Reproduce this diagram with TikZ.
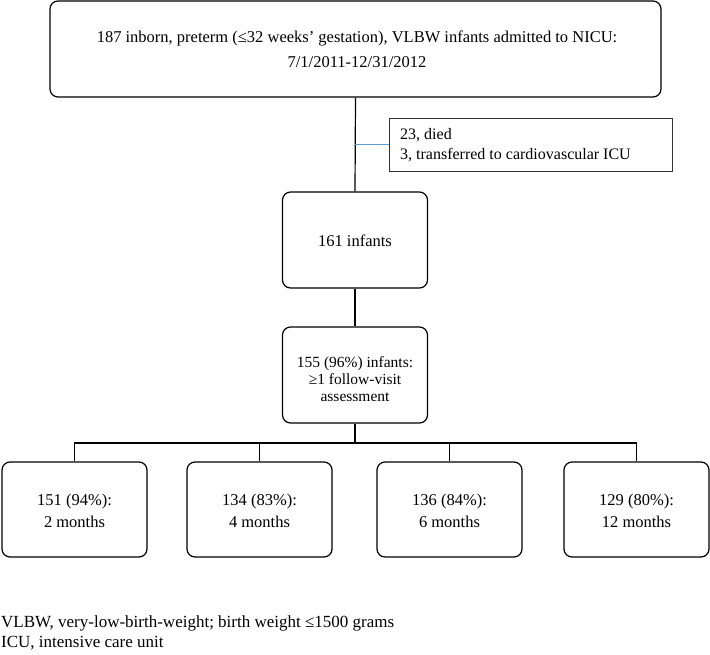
\documentclass[tikz,border=0pt]{standalone}
\usepackage{fontspec}
\setmainfont{Liberation Serif}
\definecolor{linkblue}{HTML}{5B9BD5}
\begin{document}
\begin{tikzpicture}[x=1pt,y=-1pt,
  box/.style={draw, rounded corners=8pt, line width=1.2pt, inner sep=0pt, minimum width=#1},
  sidebox/.style={draw=black!80, line width=1pt, inner sep=0pt, minimum width=283pt, minimum height=53pt},
  txt/.style={inner sep=0pt, align=center, font=\fontsize{16.5}{22}\selectfont},
  ltxt/.style={inner sep=0pt, align=left, font=\fontsize{16}{20}\selectfont},
  conn/.style={line width=1.2pt},
]
\useasboundingbox (0,0) rectangle (710,654);
% boxes
\node[box=611pt, minimum height=96pt] (top) at (355.5,49) {};
\node[sidebox] (side) at (530.5,144.5) {};
\node[box=145pt, minimum height=96pt] (b161) at (355,240) {};
\node[box=145pt, minimum height=96pt] (b155) at (355,375) {};
\node[box=145pt, minimum height=95pt] (m1) at (74.5,509.5) {};
\node[box=145pt, minimum height=95pt] (m2) at (259.5,509.5) {};
\node[box=145pt, minimum height=95pt] (m3) at (449.5,509.5) {};
\node[box=145pt, minimum height=95pt] (m4) at (636.5,509.5) {};
% texts
\node[txt, font=\fontsize{16.5}{25}\selectfont] (ttop) at (357,49.5) {187 inborn, preterm (≤32 weeks’ gestation), VLBW infants admitted to NICU:\\7/1/2011-12/31/2012};
\node[ltxt, anchor=west] (tside) at (400,145) {23, died\\3, transferred to cardiovascular ICU};
\node[txt] (t161) at (355,241) {161 infants};
\node[txt, font=\fontsize{15.5}{17}\selectfont] (t155) at (355,379) {155 (96\%) infants:\\≥1 follow-visit\\assessment};
\node[txt] (tm1) at (74.5,511) {151 (94\%):\\2 months};
\node[txt] (tm2) at (259.5,511) {134 (83\%):\\4 months};
\node[txt] (tm3) at (449.5,511) {136 (84\%):\\6 months};
\node[txt] (tm4) at (636.5,511) {129 (80\%):\\12 months};
\node[ltxt, anchor=west, font=\fontsize{17}{20}\selectfont] (foot) at (1,633) {VLBW, very-low-birth-weight; birth weight ≤1500 grams\\ICU, intensive care unit};
% connectors
\draw[conn] (top.south) -- (b161.north);
\coordinate (branch) at (355,144.5);
\draw[linkblue, line width=1pt] (branch) -- (side.west);
\draw[conn] (b161.south) -- (b155.north);
\coordinate (bus) at (355,443);
\draw[conn] (b155.south) -- (bus);
\draw[conn] (bus) -| (m1.north);
\draw[conn] (bus) -| (m2.north);
\draw[conn] (bus) -| (m3.north);
\draw[conn] (bus) -| (m4.north);
\end{tikzpicture}
\end{document}
